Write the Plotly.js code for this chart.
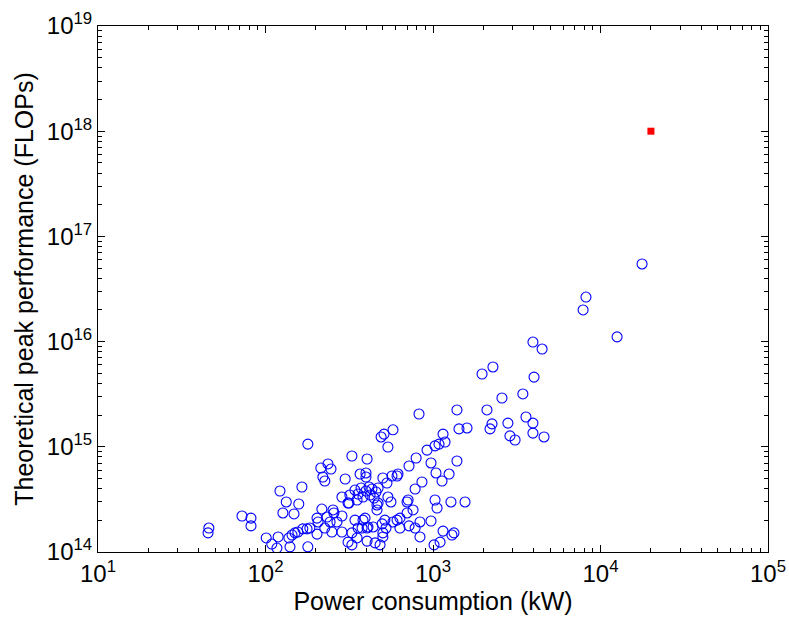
<!DOCTYPE html>
<html>
<head>
<meta charset="utf-8">
<script src="https://cdn.plot.ly/plotly-3.0.1.min.js"></script>
<style>html,body{margin:0;padding:0;background:#fff;}#chart{width:789px;height:623px;}</style>
</head>
<body>
<div id="chart"></div>
<script>
// Power consumption (kW) of systems
const powerKW = [
  17700, 8190, 7870, 12560, 3950, 4480, 2280, 1963, 4010, 2580,
  3440, 825, 1390, 2100, 3590, 3950, 2250, 2190, 2800, 1429,
  1596, 1148, 3950, 4600, 2880, 3090, 1180, 1086, 1028, 921,
  577, 510, 490, 538, 404, 793, 719, 973, 1390, 1042,
  1247, 1132, 859, 782, 710, 1028, 1057, 1280, 1553, 569,
  610, 618, 502, 531, 398, 398, 367, 538, 561, 463,
  463, 393, 760, 700, 635, 610, 577, 836, 973, 719,
  782, 516, 497, 524, 439, 409, 377, 1148, 1334, 1297,
  836, 502, 404, 451, 483, 1102, 1014, 700, 470, 319,
  311, 179, 328, 214, 236, 246, 220, 226, 299, 165,
  122, 286, 315, 342, 357, 372, 382, 398, 415, 421,
  432, 445, 457, 470, 352, 133, 158, 127, 148, 72.4,
  81.9, 81.9, 45.9, 45.4, 217, 253, 256, 286, 203, 233,
  206, 243, 267, 342, 382, 226, 203, 249, 286, 328,
  357, 404, 311, 328, 352, 184, 177, 167, 156, 150,
  144, 138, 119, 101, 109, 117, 140, 179, 635, 502
];
// Theoretical peak performance (FLOPs)
const peakFLOPs = [
  5.47e16, 2.65e16, 2.0e16, 1.11e16, 9.9e15, 8.5e15, 5.74e15, 4.92e15, 4.6e15, 2.91e15,
  3.18e15, 2.05e15, 2.24e15, 2.24e15, 1.92e15, 1.68e15, 1.65e15, 1.48e15, 1.68e15, 1.48e15,
  1.51e15, 1.32e15, 1.35e15, 1.24e15, 1.27e15, 1.16e15, 1.11e15, 1.06e15, 1.02e15, 9.3e14,
  1.45e15, 1.32e15, 1.24e15, 9.96e14, 7.66e14, 7.83e14, 6.57e14, 7.02e14, 7.33e14, 5.64e14,
  5.51e14, 4.73e14, 4.63e14, 3.97e14, 3.12e14, 3.12e14, 2.62e14, 2.99e14, 2.99e14, 5.28e14,
  5.28e14, 5.51e14, 5.05e14, 4.53e14, 5.64e14, 5.16e14, 5.51e14, 3.33e14, 2.99e14, 2.80e14,
  2.51e14, 2.10e14, 2.51e14, 2.35e14, 2.10e14, 2.01e14, 1.93e14, 1.93e14, 1.97e14, 1.77e14,
  1.69e14, 2.01e14, 1.85e14, 1.69e14, 1.73e14, 1.73e14, 1.69e14, 1.58e14, 1.52e14, 1.45e14,
  1.39e14, 1.39e14, 1.27e14, 1.22e14, 1.17e14, 1.24e14, 1.17e14, 2.99e14, 2.92e14, 3.48e14,
  2.92e14, 1.06e15, 8.18e14, 6.29e14, 6.87e14, 6.15e14, 5.16e14, 4.73e14, 4.94e14, 4.15e14,
  3.80e14, 3.33e14, 2.92e14, 3.88e14, 3.56e14, 4.06e14, 3.33e14, 3.80e14, 4.15e14, 3.48e14,
  3.97e14, 3.26e14, 3.72e14, 4.06e14, 3.12e14, 2.99e14, 2.86e14, 2.35e14, 2.30e14, 2.20e14,
  2.10e14, 1.77e14, 1.69e14, 1.52e14, 2.56e14, 2.51e14, 2.35e14, 2.20e14, 2.10e14, 2.15e14,
  1.93e14, 1.93e14, 1.93e14, 2.01e14, 2.01e14, 1.69e14, 1.48e14, 1.55e14, 1.55e14, 1.52e14,
  1.69e14, 1.69e14, 1.24e14, 1.17e14, 1.36e14, 1.69e14, 1.66e14, 1.66e14, 1.55e14, 1.52e14,
  1.45e14, 1.36e14, 1.39e14, 1.36e14, 1.19e14, 1.09e14, 1.12e14, 1.12e14, 1.69e14, 1.52e14
];
// Exascale target
const targetKW = [20000];
const targetFLOPs = [1e18];

const xTickVals = [10, 100, 1000, 10000, 100000];
const xTickText = ['10<sup>1</sup>', '10<sup>2</sup>', '10<sup>3</sup>', '10<sup>4</sup>', '10<sup>5</sup>'];
const yTickVals = [1e14, 1e15, 1e16, 1e17, 1e18, 1e19];
const yTickText = ['10<sup>14</sup>', '10<sup>15</sup>', '10<sup>16</sup>', '10<sup>17</sup>', '10<sup>18</sup>', '10<sup>19</sup>'];

const font = 'Liberation Sans, Arial, Helvetica, sans-serif';

const traces = [
  {
    x: powerKW, y: peakFLOPs, type: 'scatter', mode: 'markers',
    marker: {symbol: 'circle-open', size: 10, color: '#0000ff', line: {width: 1.1, color: '#0000ff'}},
    hoverinfo: 'x+y'
  },
  {
    x: targetKW, y: targetFLOPs, type: 'scatter', mode: 'markers',
    marker: {symbol: 'square', size: 7, color: '#ff0000'}
  }
];

const axisCommon = {
  type: 'log', showgrid: false, zeroline: false,
  showline: true, linecolor: '#000', linewidth: 1, mirror: 'allticks',
  ticks: 'inside', ticklen: 7, tickcolor: '#000', tickwidth: 1,
  tickfont: {family: font, size: 24, color: '#000'},
  minor: {ticks: 'inside', ticklen: 4, tickcolor: '#000', dtick: 'D1', showgrid: false}
};

const layout = {
  width: 789, height: 623,
  margin: {l: 98, r: 21, t: 26, b: 71},
  paper_bgcolor: '#fff', plot_bgcolor: '#fff',
  showlegend: false,
  font: {family: font, color: '#000'},
  xaxis: Object.assign({}, axisCommon, {
    range: [1, 5], tickmode: 'array', tickvals: xTickVals, ticktext: xTickText,
    ticklabelstandoff: 0,
    title: {text: 'Power consumption (kW)', font: {family: font, size: 25, color: '#000'}, standoff: 0}
  }),
  yaxis: Object.assign({}, axisCommon, {
    range: [14, 19], tickmode: 'array', tickvals: yTickVals, ticktext: yTickText,
    ticklabelstandoff: 0,
    title: {text: 'Theoretical peak performance (FLOPs)', font: {family: font, size: 25, color: '#000'}, standoff: 6}
  })
};

Plotly.newPlot('chart', traces, layout, {displayModeBar: false, staticPlot: true});
</script>
</body>
</html>
